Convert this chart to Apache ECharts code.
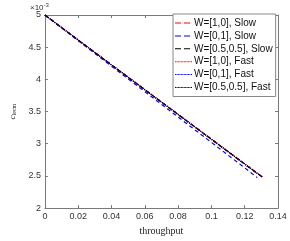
<!DOCTYPE html>
<html><head><meta charset="utf-8">
<script src="https://cdn.jsdelivr.net/npm/echarts@6/dist/echarts.min.js"></script>
<style>html,body{margin:0;padding:0;background:#fff}#c{width:290px;height:241px}</style>
</head><body><div id="c"></div>
<script>
// values in units of 1e-3
const throughputA = [0, 0.02, 0.04, 0.06, 0.08, 0.10, 0.12, 0.131];
const throughputB = [0, 0.02, 0.04, 0.06, 0.08, 0.10, 0.12, 0.1275];
const redSlow   = [5.0, 4.61, 4.225, 3.84, 3.455, 3.07, 2.685, 2.475];
const blueSlow  = [5.0, 4.60, 4.205, 3.81, 3.415, 3.02, 2.625, 2.475];
const blackSlow = [5.0, 4.61, 4.225, 3.84, 3.455, 3.07, 2.685, 2.475];
const redFast   = [5.0, 4.61, 4.225, 3.84, 3.455, 3.07, 2.685, 2.475];
const blueFast  = [5.0, 4.61, 4.225, 3.84, 3.455, 3.07, 2.685, 2.475];
const blackFast = [5.0, 4.61, 4.225, 3.84, 3.455, 3.07, 2.685, 2.475];
const names = ['W=[1,0], Slow','W=[0,1], Slow','W=[0.5,0.5], Slow','W=[1,0], Fast','W=[0,1], Fast','W=[0.5,0.5], Fast'];
const xTicks = [0, 0.02, 0.04, 0.06, 0.08, 0.1, 0.12, 0.14];
const yTicks = [2, 2.5, 3, 3.5, 4, 4.5, 5];

const pairs = (xs, ys) => xs.map((x, i) => [x, ys[i]]);
const axisCol = '#7a7a7a';
const colors = ['#ff0000', '#0000ff', '#000000', '#ff0000', '#0000ff', '#000000'];
const mk = (name, xs, ys, color, type) => ({
  name, type: 'line', data: pairs(xs, ys), symbol: 'none', showSymbol: false,
  lineStyle: { color, width: 1.2, type }, itemStyle: { color }, animation: false
});
const series = [
  mk(names[0], throughputA, redSlow, colors[0], [4, 3]),
  mk(names[1], throughputB, blueSlow, colors[1], [4, 3]),
  mk(names[2], throughputA, blackSlow, colors[2], [4, 3]),
  mk(names[3], throughputA, redFast, colors[3], [1, 1]),
  mk(names[4], throughputA, blueFast, colors[4], [1, 1]),
  mk(names[5], throughputA, blackFast, colors[5], [1, 1])
];
// legend icons: dashed / dotted line glyphs
let dotPath = 'path://';
for (let i = 0; i < 17; i += 1.5) dotPath += 'M' + i + ',0h1v1h-1z ';
const dashPath = 'path://M0,0h6v1h-6z M9,0h6v1h-6z M16.9,0h0.1v1h-0.1z';
const icons = [dashPath, dashPath, dashPath, dotPath, dotPath, dotPath];

const chart = echarts.init(document.getElementById('c'), null, { renderer: 'canvas' });
const lbl = { color: '#333', fontSize: 9, fontFamily: 'Liberation Sans, Arial' };
chart.setOption({
  animation: false,
  grid: { left: 31, right: 12, top: 15, bottom: 25, show: false },
  xAxis: [{
    type: 'value', min: 0, max: 0.14, interval: 0.02,
    axisLine: { show: true, lineStyle: { color: axisCol } },
    axisTick: { show: true, inside: true, length: 3, lineStyle: { color: axisCol } },
    splitLine: { show: false },
    axisLabel: { ...lbl, margin: 4, formatter: v => { const t = xTicks.find(k => Math.abs(k - v) < 1e-9); return t === undefined ? '' : String(t); } },
    name: 'throughput', nameLocation: 'middle', nameGap: 16,
    nameTextStyle: { color: '#222', fontSize: 10, fontFamily: 'Liberation Serif, Times New Roman, serif' }
  }, {
    type: 'value', position: 'top', min: 0, max: 0.14, interval: 0.02,
    axisLine: { show: true, onZero: false, lineStyle: { color: axisCol } },
    axisTick: { show: true, inside: true, length: 3, lineStyle: { color: axisCol } },
    axisLabel: { show: false }, splitLine: { show: false }
  }],
  yAxis: [{
    type: 'value', min: 2, max: 5, interval: 0.5,
    axisLine: { show: true, lineStyle: { color: axisCol } },
    axisTick: { show: true, inside: true, length: 3, lineStyle: { color: axisCol } },
    splitLine: { show: false },
    axisLabel: { ...lbl, margin: 4, formatter: v => { const t = yTicks.find(k => Math.abs(k - v) < 1e-9); return t === undefined ? '' : String(t); } },
    name: '{c|c}{s|lecm}', nameLocation: 'middle', nameGap: 19, nameRotate: 90,
    nameTextStyle: { rich: {
      c: { fontSize: 9, fontStyle: 'italic', fontFamily: 'Liberation Serif, serif', color: '#222' },
      s: { fontSize: 6, fontFamily: 'Liberation Serif, serif', color: '#222', verticalAlign: 'bottom', padding: [4, 0, 0, 0] }
    } }
  }, {
    type: 'value', position: 'right', min: 2, max: 5, interval: 0.5,
    axisLine: { show: true, onZero: false, lineStyle: { color: axisCol } },
    axisTick: { show: true, inside: true, length: 3, lineStyle: { color: axisCol } },
    axisLabel: { show: false }, splitLine: { show: false }
  }],
  legend: {
    orient: 'vertical', left: 173, top: 14, right: 11,
    backgroundColor: '#fff', borderColor: '#888', borderWidth: 1, borderRadius: 0,
    padding: [4, 3, 4, 2], itemGap: 2.9, itemWidth: 17, itemHeight: 11,
    textStyle: { color: '#111', fontSize: 10, fontFamily: 'Liberation Sans, Arial', padding: [0, 0, 0, -3] },
    data: names.map((n, i) => ({ name: n, icon: icons[i],
      itemStyle: { color: colors[i], borderWidth: 0, opacity: 1 } }))
  },
  graphic: [{
    type: 'text', left: 30, top: 2,
    style: { text: '{a|×10}{b|-3}', rich: {
      a: { fontSize: 8, fill: '#333', fontFamily: 'Liberation Sans, Arial' },
      b: { fontSize: 6, fill: '#333', fontFamily: 'Liberation Sans, Arial', verticalAlign: 'top', padding: [0, 0, 5, 0] }
    } }
  }],
  series
});
</script></body></html>
